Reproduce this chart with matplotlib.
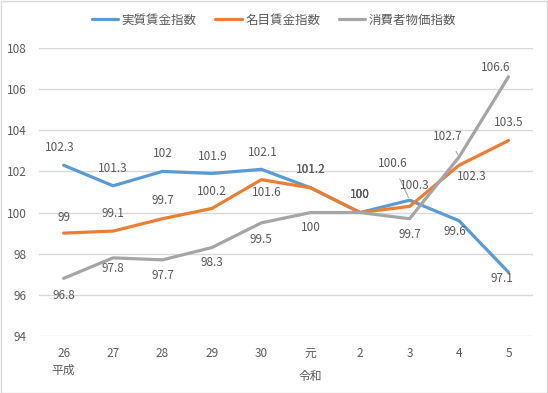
import matplotlib
matplotlib.use("Agg")
import matplotlib.pyplot as plt
from matplotlib.patches import Rectangle

plt.rcParams['font.family'] = ['Noto Sans CJK JP', 'DejaVu Sans']

# --- data ---
categories = ["26", "27", "28", "29", "30", "元", "2", "3", "4", "5"]
real_wage = [102.3, 101.3, 102, 101.9, 102.1, 101.2, 100, 100.6, 99.6, 97.1]
nominal_wage = [99, 99.1, 99.7, 100.2, 101.6, 101.2, 100, 100.3, 102.3, 103.5]
cpi = [96.8, 97.8, 97.7, 98.3, 99.5, 100, 100, 99.7, 102.7, 106.6]
series_names = ["実質賃金指数", "名目賃金指数", "消費者物価指数"]

# label offsets in pixels (dx, dy), hand-placed like the original
real_off = [(-4, 18), (0, 17), (0, 18), (1, 17), (1, 17), (0, 18), (0, 18), (-17, 37), (-4, -11), (-7, -6)]
nom_off = [(0, 16), (0, 18), (0, 18), (0, 17), (5, -13), (0, 18), (0, 18), (5, 21), (13, -11), (0, 18)]
cpi_off = [(0, -17), (0, -11), (0, -16), (0, -15), (0, -17), (0, -15), (0, 18), (0, -16), (-11, 21), (-13, 9)]
leaders = {("real", 7), ("cpi", 8)}

colors = ["#5B9BD5", "#ED7D31", "#A5A5A5"]
txt_col = "#595959"

fig = plt.figure(figsize=(5.48, 3.93), dpi=100)
ax = fig.add_axes([0.071, 0.145, 0.902, 0.733])

x = list(range(len(categories)))
all_series = [("real", real_wage, real_off), ("nom", nominal_wage, nom_off), ("cpi", cpi, cpi_off)]
for (key, vals, offs), name, c in zip(all_series, series_names, colors):
    ax.plot(x, vals, color=c, lw=2.3, label=name, solid_capstyle='round', zorder=3)
    for i, (v, (dx, dy)) in enumerate(zip(vals, offs)):
        lab = f"{v:g}"
        if (key, i) in leaders:
            ax.annotate(lab, (i, v), xytext=(dx, dy), textcoords='offset pixels',
                        ha='center', va='center', fontsize=8.5, color=txt_col,
                        arrowprops=dict(arrowstyle='-', color='#A6A6A6', lw=0.8,
                                        shrinkA=5, shrinkB=2))
        else:
            ax.annotate(lab, (i, v), xytext=(dx, dy), textcoords='offset pixels',
                        ha='center', va='center', fontsize=8.5, color=txt_col)

ax.set_xlim(-0.5, len(categories) - 0.5)
ax.set_ylim(94, 108)
ax.set_yticks(range(94, 109, 2))
ax.set_xticks(x)
ax.set_xticklabels(categories)
ax.tick_params(length=0, colors=txt_col, labelsize=8.5)
ax.tick_params(axis='y', pad=9)
ax.tick_params(axis='x', pad=8)
ax.grid(axis='y', color='#D9D9D9', lw=1)
ax.set_axisbelow(True)
for s in ax.spines.values():
    s.set_visible(False)

# era labels under the year ticks
ax.text(0, -0.12, "平成", transform=ax.get_xaxis_transform(), ha='center', va='center',
        fontsize=8.5, color=txt_col)
ax.text(5, -0.14, "令和", transform=ax.get_xaxis_transform(), ha='center', va='center',
        fontsize=8.5, color=txt_col)

fig.legend(loc='center', bbox_to_anchor=(0.5, 0.949), ncol=3, frameon=False,
           fontsize=9, labelcolor=txt_col, handlelength=2.1, handletextpad=0.3,
           columnspacing=1.5)

fig.patches.append(Rectangle((0.001, 0.001), 0.997, 0.997, transform=fig.transFigure,
                             fill=False, edgecolor='#D9D9D9', lw=1))

fig.savefig("out.png", dpi=100)
